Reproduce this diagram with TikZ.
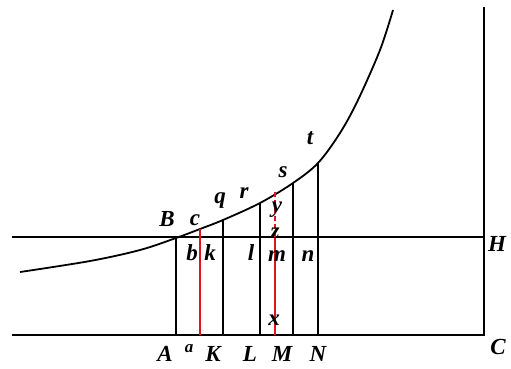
\documentclass[tikz,border=0pt]{standalone}
\usepackage{fontspec}
\setmainfont{Liberation Serif}
\usepackage{tikz}
\definecolor{ordred}{HTML}{E0141E}

\begin{document}
\begin{tikzpicture}[x=1pt,y=-1pt,
  axis/.style={line width=2.8pt, line cap=rect},
  ord/.style={line width=2.6pt},
  redord/.style={line width=1.7pt, ordred},
  crv/.style={line width=1.8pt},
  lab/.style={font=\fontsize{23}{23}\selectfont\bfseries\itshape, inner sep=0pt},
  sml/.style={font=\fontsize{17}{17}\selectfont\bfseries\itshape, inner sep=0pt},
]
\useasboundingbox (0,0) rectangle (511,368);
% frame
\coordinate (Hl) at (13,237);
\coordinate (H) at (484,237);
\coordinate (Cl) at (13,335);
\coordinate (C) at (484,335);
\coordinate (Ctop) at (484,8);
\draw[axis] (Hl) -- (H);
\draw[axis] (Cl) -- (C) -- (Ctop);
% the curve
\draw[crv] plot[smooth, tension=0.55] coordinates {(20,272) (90,261) (140,250) (176,238) (200,229)
  (223,220) (260,203) (293,183) (318,163) (340,133) (358,100) (380,50) (393,10)};
% ordinates
\draw[ord] (176,335) -- (176,237);
\draw[ord] (223,335) -- (223,220);
\draw[ord] (260,335) -- (260,203);
\draw[ord] (293,335) -- (293,183);
\draw[ord] (318,335) -- (318,163);
\draw[redord] (200,335) -- (200,229);
\draw[redord] (275,335) -- (275,237);
\draw[redord, dashed, dash pattern=on 5pt off 3pt] (275,237) -- (275,192);
% labels
\node[lab] (lB) at (167,219) {B};
\node[lab] (lc) at (195,220) {c};
\node[lab] (lq) at (220,201) {q};
\node[lab] (lr) at (244,193) {r};
\node[lab] (ls) at (283,172) {s};
\node[lab] (lt) at (310,138) {t};
\node[lab] (ly) at (277,210) {y};
\node[lab] (lz) at (275,233) {z};
\node[lab] (lb) at (192,253) {b};
\node[lab] (lk) at (210,253) {k};
\node[lab] (ll) at (251,253) {l};
\node[lab] (lm) at (277,256) {m};
\node[lab] (ln) at (308,256) {n};
\node[lab] (lx) at (274,320) {x};
\node[lab] (lH) at (497,244) {H};
\node[lab] (lC) at (498,347) {C};
\node[lab] (lA) at (165,354) {A};
\node[sml] (la) at (189,349) {a};
\node[lab] (lK) at (213,354) {K};
\node[lab] (lL) at (250,354) {L};
\node[lab] (lM) at (282,354) {M};
\node[lab] (lN) at (318,354) {N};
\end{tikzpicture}
\end{document}
